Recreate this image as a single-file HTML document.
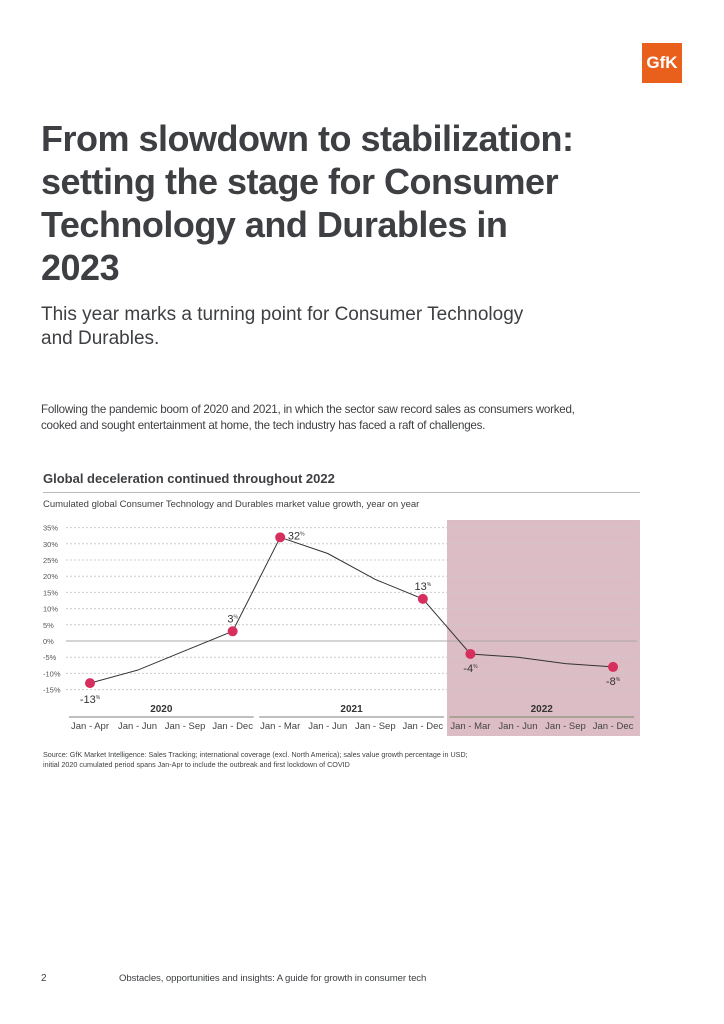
<!DOCTYPE html>
<html><head><meta charset="utf-8"><style>
body{margin:0;width:724px;height:1024px;background:#fff;font-family:"Liberation Sans",sans-serif;color:#3d3f42;position:relative;overflow:hidden}
.a{position:absolute}
</style></head><body>
<div class="a" style="left:642px;top:43px;width:40px;height:40px;background:#e8601c;color:#fff;font-size:17px;line-height:40px;text-align:center;font-weight:bold">GfK</div>
<div class="a" style="left:41px;top:117px;width:545px;font-size:36px;font-weight:bold;line-height:43px;letter-spacing:-0.5px">From slowdown to stabilization: setting the stage for Consumer Technology and Durables in 2023</div>
<div class="a" style="left:41px;top:303px;width:500px;font-size:19px;line-height:24px">This year marks a turning point for Consumer Technology and Durables.</div>
<div class="a" style="left:41px;top:402px;width:560px;font-size:11.6px;line-height:16px;letter-spacing:-0.25px">Following the pandemic boom of 2020 and 2021, in which the sector saw record sales as consumers worked, cooked and sought entertainment at home, the tech industry has faced a raft of challenges.</div>
<div class="a" style="left:43px;top:471px;font-size:13px;font-weight:bold">Global deceleration continued throughout 2022</div>
<div class="a" style="left:43px;top:492px;width:597px;height:1px;background:#bbb"></div>
<div class="a" style="left:43px;top:499px;font-size:9.5px">Cumulated global Consumer Technology and Durables market value growth, year on year</div>
<svg class="a" style="left:0;top:0" width="724" height="1024" id="chart"></svg>
<div class="a" style="left:43px;top:750px;font-size:7.2px;line-height:10px;width:560px">Source: GfK Market Intelligence: Sales Tracking; international coverage (excl. North America); sales value growth percentage in USD;<br>initial 2020 cumulated period spans Jan-Apr to include the outbreak and first lockdown of COVID</div>
<div class="a" style="left:41px;top:973px;font-size:10px">2</div>
<div class="a" style="left:119px;top:973px;font-size:9.6px;letter-spacing:-0.1px">Obstacles, opportunities and insights: A guide for growth in consumer tech</div>
<script>
const categories=["Jan - Apr","Jan - Jun","Jan - Sep","Jan - Dec","Jan - Mar","Jan - Jun","Jan - Sep","Jan - Dec","Jan - Mar","Jan - Jun","Jan - Sep","Jan - Dec"];
const values=[-13,-9,-3,3,32,27,19,13,-4,-5,-7,-8];
const labelled=[0,3,4,7,8,11];
const yTicks=[35,30,25,20,15,10,5,0,-5,-10,-15];
const years=["2020","2021","2022"];
const NS="http://www.w3.org/2000/svg";
const svg=document.getElementById('chart');
const x=i=>90+i*47.55;
const y=v=>641-v*3.24;
function mk(t,a){const e=document.createElementNS(NS,t);for(const k in a)e.setAttribute(k,a[k]);svg.appendChild(e);return e;}
let r=mk('rect',{x:447,y:520,width:193,height:216,fill:'#dcbcc5'});


yTicks.forEach(t=>{
 let l=mk('line',{x1:66,x2:637,y1:y(t),y2:y(t),stroke:t===0?'#aaa':'#ccc','stroke-dasharray':t===0?'':'2,2','stroke-width':1});
 
 
 let tx=mk('text',{x:43,y:y(t)+3,'font-size':7.5,fill:'#555'});tx.textContent=t+'%';
 
 
});
let pts=values.map((v,i)=>x(i)+','+y(v)).join(' ');
let pl=mk('polyline',{points:pts,fill:'none',stroke:'#333','stroke-width':1});


labelled.forEach(i=>{
 let c=mk('circle',{cx:x(i),cy:y(values[i]),r:5,fill:'#d62f5e'});
 
 
 const v=values[i];
 let dx=0,dy=-9;
 if(i===0){dx=0;dy=20;} if(i===4){dx=16;dy=2;} if(i===8||i===11){dy=18;}
 let t=mk('text',{x:x(i)+dx,y:y(v)+dy,'font-size':11,fill:'#333','text-anchor':'middle'});
 t.innerHTML=v+'<tspan font-size="5" dy="-4">%</tspan>';
 
 
});
categories.forEach((c,i)=>{
 let t=mk('text',{x:x(i),y:729,'font-size':9.5,fill:'#444','text-anchor':'middle'});t.textContent=c;
 
 
});
years.forEach((yr,g)=>{
 const cx=(x(g*4)+x(g*4+3))/2;
 let t=mk('text',{x:cx,y:712,'font-size':10,'font-weight':'bold',fill:'#333','text-anchor':'middle'});t.textContent=yr;
 
 
 let l=mk('line',{x1:x(g*4)-21,x2:x(g*4+3)+21,y1:717,y2:717,stroke:g===2?'#998':'#aaa','stroke-width':1.5});
 
 
});
</script>
</body></html>
